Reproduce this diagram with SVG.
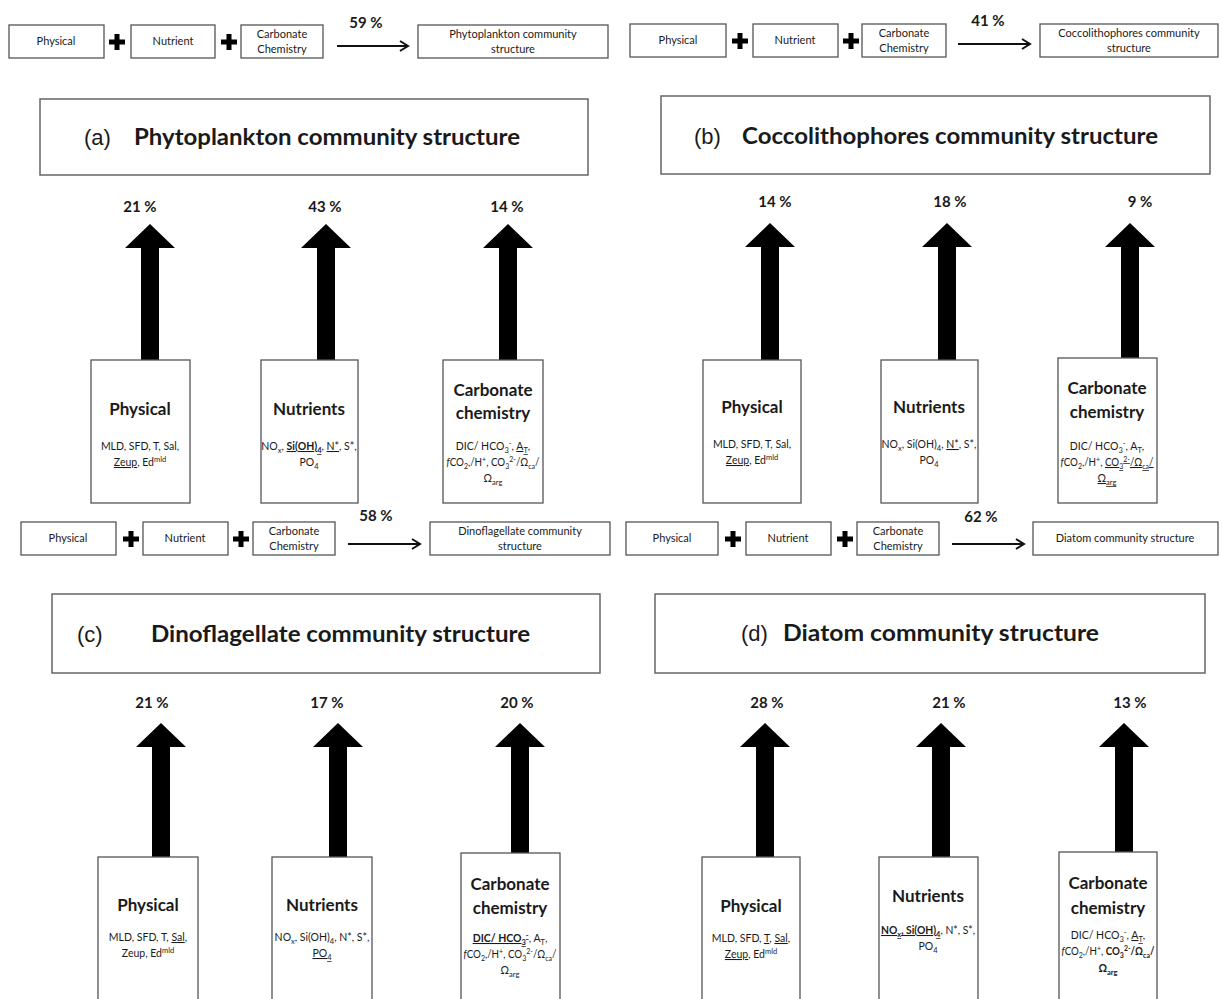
<svg xmlns="http://www.w3.org/2000/svg" width="1223" height="999" viewBox="0 0 1223 999">
<style>
.box{fill:#fff;stroke:#555;stroke-width:1.3}
.tb{fill:#fff;stroke:#666;stroke-width:1.5}
.t{font-family:Lato,"Liberation Sans",sans-serif;fill:#1a1a1a;text-anchor:middle}
.s11{font-size:11px}
.s10{font-size:10.5px}
.h{font-size:17px;font-weight:bold}
.pc{font-size:15px;font-weight:bold}
.pl{font-family:"Liberation Sans",Arial,sans-serif;font-size:22px;fill:#1a1a1a}
.ti{font-family:Lato,"Liberation Sans",sans-serif;font-size:22px;font-weight:bold;fill:#1a1a1a}
.u{text-decoration:underline}
.bd{font-weight:bold}
.sb{font-size:7.5px}
.big{fill:#000}
.thin{stroke:#111;stroke-width:2;fill:none}
.plus{fill:#000}
</style>
<defs>
<marker id="ah" markerWidth="12" markerHeight="12" refX="9" refY="6" orient="auto" markerUnits="userSpaceOnUse">
<path d="M1,1 L9,6 L1,11" fill="none" stroke="#111" stroke-width="2"/>
</marker>
<path id="bigArrow" d="M0,0 L25,24 L9,24 L9,140 L-9,140 L-9,24 L-25,24 Z"/>
<g id="plusSign"><rect x="-8" y="-2.5" width="16" height="5"/><rect x="-2.5" y="-8" width="5" height="16"/></g>
</defs>

<!-- connectors -->
<g id="connectors">
<line class="thin" x1="337" y1="46" x2="408" y2="46" marker-end="url(#ah)"/>
<line class="thin" x1="958" y1="44" x2="1030" y2="44" marker-end="url(#ah)"/>
<line class="thin" x1="348" y1="544" x2="420" y2="544" marker-end="url(#ah)"/>
<line class="thin" x1="952" y1="544" x2="1024" y2="544" marker-end="url(#ah)"/>
<g class="big">
<use href="#bigArrow" x="150" y="224"/>
<use href="#bigArrow" x="326" y="224"/>
<use href="#bigArrow" x="508" y="224"/>
<use href="#bigArrow" x="770" y="223"/>
<use href="#bigArrow" x="947" y="223"/>
<use href="#bigArrow" x="1130" y="223"/>
<use href="#bigArrow" x="161" y="723"/>
<use href="#bigArrow" x="338" y="723"/>
<use href="#bigArrow" x="520" y="723"/>
<use href="#bigArrow" x="765" y="723"/>
<use href="#bigArrow" x="941" y="723"/>
<use href="#bigArrow" x="1124" y="723"/>
</g>
<g class="plus">
<use href="#plusSign" x="117" y="42"/>
<use href="#plusSign" x="229" y="42"/>
<use href="#plusSign" x="740" y="41"/>
<use href="#plusSign" x="851" y="41"/>
<use href="#plusSign" x="131" y="539"/>
<use href="#plusSign" x="241" y="539"/>
<use href="#plusSign" x="733" y="539"/>
<use href="#plusSign" x="845" y="539"/>
</g>
</g>

<!-- top row left -->
<g id="top-left-physical"><rect class="box" x="9" y="25" width="95" height="33"/><text class="t s11" x="56" y="45">Physical</text></g>
<g id="top-left-nutrient"><rect class="box" x="131" y="25" width="84" height="33"/><text class="t s11" x="173" y="45">Nutrient</text></g>
<g id="top-left-carbonate"><rect class="box" x="241" y="25" width="82" height="33"/><text class="t s11" x="282" y="38">Carbonate</text><text class="t s11" x="282" y="53">Chemistry</text></g>
<g id="top-left-pct"><text class="t pc" x="366" y="28">59 %</text></g>
<g id="top-left-result"><rect class="box" x="418" y="25" width="190" height="33"/><text class="t s11" x="513" y="38">Phytoplankton community</text><text class="t s11" x="513" y="53">structure</text></g>

<!-- top row right -->
<g id="top-right-physical"><rect class="box" x="630" y="24" width="96" height="33"/><text class="t s11" x="678" y="44">Physical</text></g>
<g id="top-right-nutrient"><rect class="box" x="753" y="24" width="85" height="33"/><text class="t s11" x="795" y="44">Nutrient</text></g>
<g id="top-right-carbonate"><rect class="box" x="862" y="24" width="84" height="33"/><text class="t s11" x="904" y="37">Carbonate</text><text class="t s11" x="904" y="52">Chemistry</text></g>
<g id="top-right-pct"><text class="t pc" x="988" y="26">41 %</text></g>
<g id="top-right-result"><rect class="box" x="1040" y="24" width="178" height="33"/><text class="t s11" x="1129" y="37">Coccolithophores community</text><text class="t s11" x="1129" y="52">structure</text></g>

<!-- middle row left -->
<g id="mid-left-physical"><rect class="box" x="21" y="522" width="95" height="33"/><text class="t s11" x="68" y="542">Physical</text></g>
<g id="mid-left-nutrient"><rect class="box" x="143" y="522" width="85" height="33"/><text class="t s11" x="185" y="542">Nutrient</text></g>
<g id="mid-left-carbonate"><rect class="box" x="253" y="522" width="82" height="33"/><text class="t s11" x="294" y="535">Carbonate</text><text class="t s11" x="294" y="550">Chemistry</text></g>
<g id="mid-left-pct"><text class="t pc" x="376" y="521">58 %</text></g>
<g id="mid-left-result"><rect class="box" x="430" y="522" width="180" height="33"/><text class="t s11" x="520" y="535">Dinoflagellate community</text><text class="t s11" x="520" y="550">structure</text></g>

<!-- middle row right -->
<g id="mid-right-physical"><rect class="box" x="626" y="522" width="92" height="33"/><text class="t s11" x="672" y="542">Physical</text></g>
<g id="mid-right-nutrient"><rect class="box" x="746" y="522" width="85" height="33"/><text class="t s11" x="788" y="542">Nutrient</text></g>
<g id="mid-right-carbonate"><rect class="box" x="857" y="522" width="82" height="33"/><text class="t s11" x="898" y="535">Carbonate</text><text class="t s11" x="898" y="550">Chemistry</text></g>
<g id="mid-right-pct"><text class="t pc" x="981" y="522">62 %</text></g>
<g id="mid-right-result"><rect class="box" x="1033" y="522" width="185" height="33"/><text class="t s11" x="1125" y="542">Diatom community structure</text></g>

<!-- panel a -->
<g id="a-title"><rect class="tb" x="40" y="99" width="548" height="76"/><text class="pl" x="84" y="145">(a)</text><text class="ti" x="134" y="145" textLength="386" lengthAdjust="spacingAndGlyphs">Phytoplankton community structure</text></g>
<g id="a-pcts"><text class="t pc" x="140" y="212">21 %</text><text class="t pc" x="325" y="212">43 %</text><text class="t pc" x="507" y="212">14 %</text></g>
<g id="a-physical"><rect class="box" x="91" y="360" width="99" height="143"/>
<text class="t h" x="140" y="415">Physical</text>
<text class="t s10" x="140" y="450">MLD, SFD, T, Sal,</text>
<text class="t s10" x="140" y="466"><tspan class="u">Zeup</tspan>, Ed<tspan class="sb" dy="-4">mld</tspan></text></g>
<g id="a-nutrients"><rect class="box" x="261" y="360" width="97" height="143"/>
<text class="t h" x="309" y="415">Nutrients</text>
<text class="t s10" x="309" y="450">NO<tspan class="sb" dy="3">x</tspan><tspan dy="-3">, </tspan><tspan class="u bd">Si(OH)<tspan class="sb" dy="3">4</tspan></tspan><tspan dy="-3">, </tspan><tspan class="u">N*</tspan>, S*,</text>
<text class="t s10" x="309" y="466">PO<tspan class="sb" dy="3">4</tspan></text></g>
<g id="a-carbonate"><rect class="box" x="443" y="360" width="100" height="143"/>
<text class="t h" x="493" y="396">Carbonate</text>
<text class="t h" x="493" y="419">chemistry</text>
<text class="t s10" x="493" y="450">DIC/ HCO<tspan class="sb" dy="3">3</tspan><tspan class="sb" dy="-7">-</tspan><tspan dy="4">, </tspan><tspan class="u">A<tspan class="sb" dy="3">T</tspan></tspan><tspan dy="-3">,</tspan></text>
<text class="t s10" x="493" y="466" textLength="93" lengthAdjust="spacingAndGlyphs"><tspan font-style="italic">f</tspan>CO<tspan class="sb" dy="3">2</tspan><tspan dy="-3">,/H</tspan><tspan class="sb" dy="-4">+</tspan><tspan dy="4">, CO</tspan><tspan class="sb" dy="3">3</tspan><tspan class="sb" dy="-7">2-</tspan><tspan dy="4">/Ω</tspan><tspan class="sb" dy="3">ca</tspan><tspan dy="-3">/</tspan></text>
<text class="t s10" x="493" y="482">Ω<tspan class="sb" dy="3">arg</tspan></text></g>

<!-- panel b -->
<g id="b-title"><rect class="tb" x="661" y="96" width="549" height="78"/><text class="pl" x="694" y="144">(b)</text><text class="ti" x="742" y="144" textLength="416" lengthAdjust="spacingAndGlyphs">Coccolithophores community structure</text></g>
<g id="b-pcts"><text class="t pc" x="775" y="207">14 %</text><text class="t pc" x="950" y="207">18 %</text><text class="t pc" x="1140" y="207">9 %</text></g>
<g id="b-physical"><rect class="box" x="703" y="360" width="98" height="143"/>
<text class="t h" x="752" y="413">Physical</text>
<text class="t s10" x="752" y="448">MLD, SFD, T, Sal,</text>
<text class="t s10" x="752" y="464"><tspan class="u">Zeup</tspan>, Ed<tspan class="sb" dy="-4">mld</tspan></text></g>
<g id="b-nutrients"><rect class="box" x="881" y="360" width="97" height="143"/>
<text class="t h" x="929" y="413">Nutrients</text>
<text class="t s10" x="929" y="448">NO<tspan class="sb" dy="3">x</tspan><tspan dy="-3">, Si(OH)</tspan><tspan class="sb" dy="3">4</tspan><tspan dy="-3">, </tspan><tspan class="u">N*</tspan>, S*,</text>
<text class="t s10" x="929" y="464">PO<tspan class="sb" dy="3">4</tspan></text></g>
<g id="b-carbonate"><rect class="box" x="1058" y="358" width="99" height="145"/>
<text class="t h" x="1107" y="394">Carbonate</text>
<text class="t h" x="1107" y="418">chemistry</text>
<text class="t s10" x="1107" y="450">DIC/ HCO<tspan class="sb" dy="3">3</tspan><tspan class="sb" dy="-7">-</tspan><tspan dy="4">, A</tspan><tspan class="sb" dy="3">T</tspan><tspan dy="-3">,</tspan></text>
<text class="t s10" x="1107" y="466" textLength="93" lengthAdjust="spacingAndGlyphs"><tspan font-style="italic">f</tspan>CO<tspan class="sb" dy="3">2</tspan><tspan dy="-3">,/H</tspan><tspan class="sb" dy="-4">+</tspan><tspan dy="4">, </tspan><tspan class="u">CO<tspan class="sb" dy="3">3</tspan><tspan class="sb" dy="-7">2-</tspan><tspan dy="4">/Ω</tspan><tspan class="sb" dy="3">ca</tspan><tspan dy="-3">/</tspan></tspan></text>
<text class="t s10" x="1107" y="482"><tspan class="u">Ω<tspan class="sb" dy="3">arg</tspan></tspan></text></g>

<!-- panel c -->
<g id="c-title"><rect class="tb" x="52" y="594" width="548" height="79"/><text class="pl" x="77" y="642">(c)</text><text class="ti" x="151" y="642" textLength="379" lengthAdjust="spacingAndGlyphs">Dinoflagellate community structure</text></g>
<g id="c-pcts"><text class="t pc" x="152" y="708">21 %</text><text class="t pc" x="327" y="708">17 %</text><text class="t pc" x="517" y="708">20 %</text></g>
<g id="c-physical"><rect class="box" x="98" y="857" width="100" height="160"/>
<text class="t h" x="148" y="911">Physical</text>
<text class="t s10" x="148" y="941">MLD, SFD, T, <tspan class="u">Sal</tspan>,</text>
<text class="t s10" x="148" y="957">Zeup, Ed<tspan class="sb" dy="-4">mld</tspan></text></g>
<g id="c-nutrients"><rect class="box" x="272" y="857" width="100" height="160"/>
<text class="t h" x="322" y="911">Nutrients</text>
<text class="t s10" x="322" y="941">NO<tspan class="sb" dy="3">x</tspan><tspan dy="-3">, Si(OH)</tspan><tspan class="sb" dy="3">4</tspan><tspan dy="-3">, N*, S*,</tspan></text>
<text class="t s10" x="322" y="957"><tspan class="u">PO<tspan class="sb" dy="3">4</tspan></tspan></text></g>
<g id="c-carbonate"><rect class="box" x="461" y="853" width="99" height="160"/>
<text class="t h" x="510" y="890">Carbonate</text>
<text class="t h" x="510" y="914">chemistry</text>
<text class="t s10" x="510" y="942"><tspan class="u bd">DIC/ HCO<tspan class="sb" dy="3">3</tspan><tspan class="sb" dy="-7">-</tspan></tspan><tspan dy="4">, A</tspan><tspan class="sb" dy="3">T</tspan><tspan dy="-3">,</tspan></text>
<text class="t s10" x="510" y="958" textLength="93" lengthAdjust="spacingAndGlyphs"><tspan font-style="italic">f</tspan>CO<tspan class="sb" dy="3">2</tspan><tspan dy="-3">,/H</tspan><tspan class="sb" dy="-4">+</tspan><tspan dy="4">, CO</tspan><tspan class="sb" dy="3">3</tspan><tspan class="sb" dy="-7">2-</tspan><tspan dy="4">/Ω</tspan><tspan class="sb" dy="3">ca</tspan><tspan dy="-3">/</tspan></text>
<text class="t s10" x="510" y="974">Ω<tspan class="sb" dy="3">arg</tspan></text></g>

<!-- panel d -->
<g id="d-title"><rect class="tb" x="655" y="594" width="550" height="79"/><text class="pl" x="741" y="641">(d)</text><text class="ti" x="783" y="641" textLength="316" lengthAdjust="spacingAndGlyphs">Diatom community structure</text></g>
<g id="d-pcts"><text class="t pc" x="767" y="708">28 %</text><text class="t pc" x="949" y="708">21 %</text><text class="t pc" x="1130" y="708">13 %</text></g>
<g id="d-physical"><rect class="box" x="702" y="857" width="98" height="160"/>
<text class="t h" x="751" y="912">Physical</text>
<text class="t s10" x="751" y="942">MLD, SFD, <tspan class="u">T</tspan>, <tspan class="u">Sal</tspan>,</text>
<text class="t s10" x="751" y="958"><tspan class="u">Zeup</tspan>, Ed<tspan class="sb" dy="-4">mld</tspan></text></g>
<g id="d-nutrients"><rect class="box" x="879" y="857" width="99" height="160"/>
<text class="t h" x="928" y="902">Nutrients</text>
<text class="t s10" x="928" y="934" textLength="94" lengthAdjust="spacingAndGlyphs"><tspan class="u bd">NO<tspan class="sb" dy="3">x</tspan><tspan dy="-3">, Si(OH)</tspan><tspan class="sb" dy="3">4</tspan></tspan><tspan dy="-3">, N*, S*,</tspan></text>
<text class="t s10" x="928" y="950">PO<tspan class="sb" dy="3">4</tspan></text></g>
<g id="d-carbonate"><rect class="box" x="1059" y="852" width="98" height="160"/>
<text class="t h" x="1108" y="889">Carbonate</text>
<text class="t h" x="1108" y="914">chemistry</text>
<text class="t s10" x="1108" y="939">DIC/ HCO<tspan class="sb" dy="3">3</tspan><tspan class="sb" dy="-7">-</tspan><tspan dy="4">, </tspan><tspan class="u">A<tspan class="sb" dy="3">T</tspan></tspan><tspan dy="-3">,</tspan></text>
<text class="t s10" x="1108" y="955" textLength="93" lengthAdjust="spacingAndGlyphs"><tspan font-style="italic">f</tspan>CO<tspan class="sb" dy="3">2</tspan><tspan dy="-3">,/H</tspan><tspan class="sb" dy="-4">+</tspan><tspan dy="4">, </tspan><tspan class="bd">CO<tspan class="sb" dy="3">3</tspan><tspan class="sb" dy="-7">2-</tspan><tspan dy="4">/Ω</tspan><tspan class="sb" dy="3">ca</tspan><tspan dy="-3">/</tspan></tspan></text>
<text class="t s10" x="1108" y="972"><tspan class="bd">Ω<tspan class="sb" dy="3">arg</tspan></tspan></text></g>
</svg>
